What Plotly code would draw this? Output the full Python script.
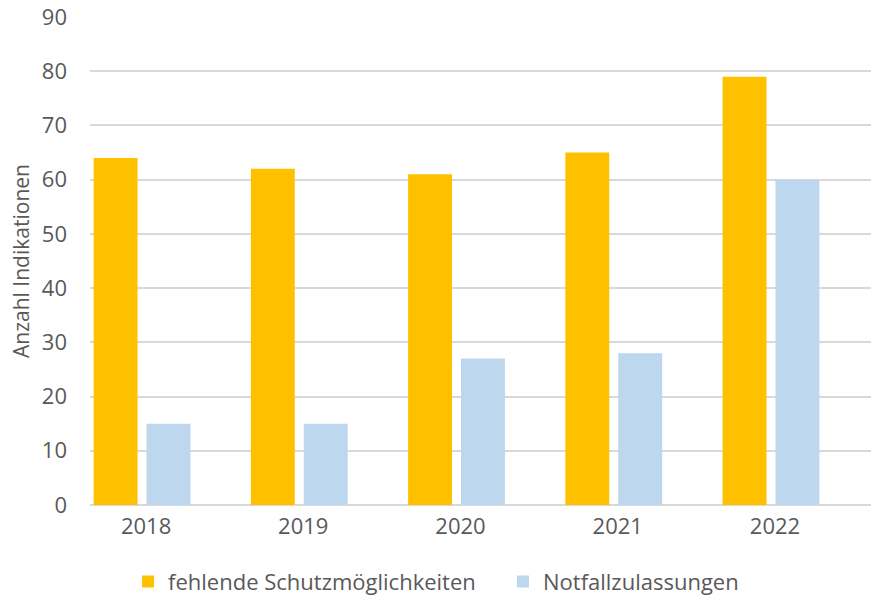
import plotly.graph_objects as go

years = ["2018", "2019", "2020", "2021", "2022"]
fehlende = [64, 62, 61, 65, 79]
notfall = [15, 15, 27, 28, 60]
series_names = ["fehlende Schutzmöglichkeiten", "Notfallzulassungen"]
y_ticks = [0, 10, 20, 30, 40, 50, 60, 70, 80, 90]

font_family = "Open Sans, Liberation Sans, sans-serif"
grey = "#595959"

fig = go.Figure()
fig.add_trace(go.Bar(x=years, y=fehlende, name=series_names[0], legend="legend",
                     marker=dict(color="#FFC000", line=dict(width=0))))
fig.add_trace(go.Bar(x=years, y=notfall, name=series_names[1], legend="legend2",
                     marker=dict(color="#BDD7EE", line=dict(width=0))))

leg_common = dict(orientation="h", xanchor="left", y=-0.157, yanchor="middle",
                  font=dict(size=22, color=grey), itemwidth=30, bgcolor="rgba(0,0,0,0)")

fig.update_layout(
    width=871, height=597,
    margin=dict(l=90, r=0, t=17, b=92, autoexpand=False),
    paper_bgcolor="white", plot_bgcolor="white",
    barmode="group", bargap=0.327, bargroupgap=0.17,
    font=dict(family=font_family, color=grey, size=22),
    showlegend=True,
    legend=dict(x=0.0487, **leg_common),
    legend2=dict(x=0.5288, **leg_common),
    xaxis=dict(type="category", range=[-0.331, 4.636], showgrid=False, automargin=False,
               ticks="", tickfont=dict(size=22, color=grey), showline=False,
               ticklabelstandoff=6, ticklabelshift=4),
    yaxis=dict(range=[0, 90], tickvals=y_ticks, showgrid=True, gridcolor="#D9D9D9",
               gridwidth=1.8, zeroline=True, zerolinecolor="#D9D9D9", zerolinewidth=1.8,
               automargin=False, ticks="",
               tickfont=dict(size=22, color=grey), ticklabelstandoff=22,
               title=dict(text="Anzahl Indikationen", font=dict(size=21, color=grey), standoff=6)),
)

fig.write_html("out.html", config={"displayModeBar": False},
               post_script="document.body.style.margin='0px';document.body.style.overflow='hidden';")
